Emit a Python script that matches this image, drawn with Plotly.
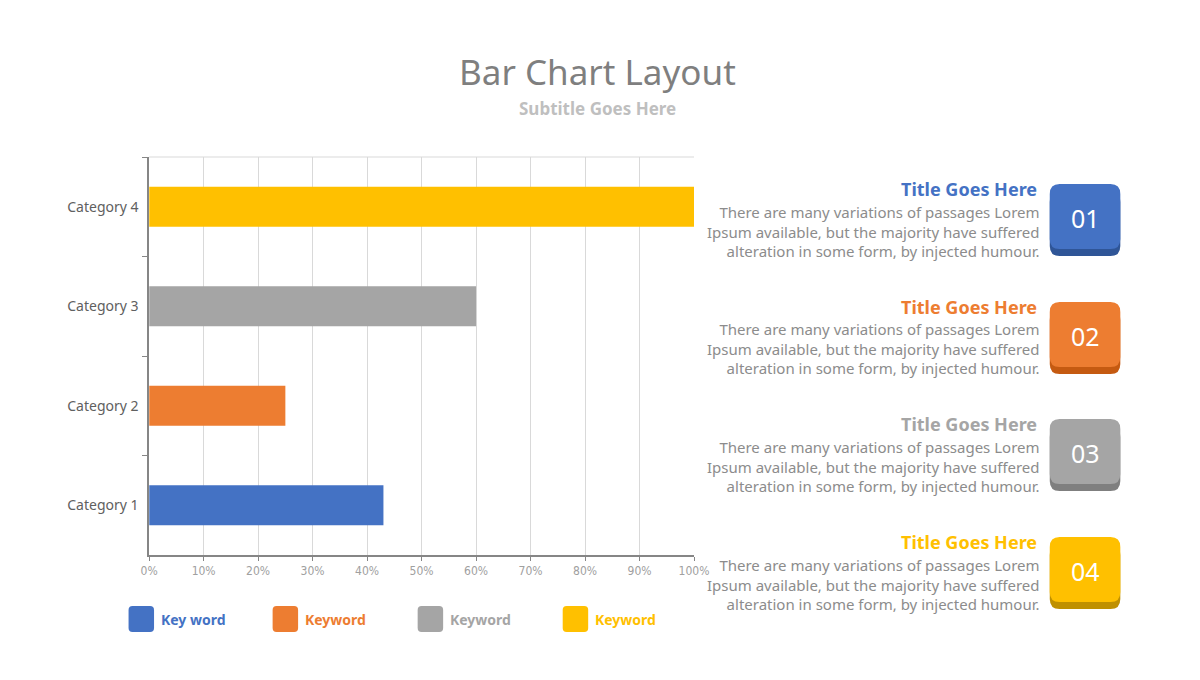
import plotly.graph_objects as go

categories = ["Category 1", "Category 2", "Category 3", "Category 4"]
values = [0.43, 0.25, 0.60, 1.00]
bar_colors = ["#4472C4", "#ED7D31", "#A5A5A5", "#FFC000"]
dark_colors = ["#2F5597", "#C55A11", "#7F7F7F", "#BF9000"]
x_ticks = [0, 0.1, 0.2, 0.3, 0.4, 0.5, 0.6, 0.7, 0.8, 0.9, 1.0]
legend_labels = ["Key word", "Keyword", "Keyword", "Keyword"]
card_titles = ["Title Goes Here"] * 4
card_numbers = ["01", "02", "03", "04"]
card_body = ("There are many variations of passages Lorem<br>"
             "Ipsum available, but the majority have suffered<br>"
             "alteration in some form, by injected humour.")

W, H = 1200, 680
FONT = "Noto Sans, Open Sans, DejaVu Sans, sans-serif"


def px(x):
    return x / W


def py(y):
    return 1 - y / H


def rrect(x0, y0, x1, y1, r):
    X0, X1 = px(x0), px(x1)
    Y0, Y1 = py(y0), py(y1)
    rx, ry = r / W, r / H
    return (f"M {X0+rx},{Y0} L {X1-rx},{Y0} Q {X1},{Y0} {X1},{Y0-ry} "
            f"L {X1},{Y1+ry} Q {X1},{Y1} {X1-rx},{Y1} L {X0+rx},{Y1} "
            f"Q {X0},{Y1} {X0},{Y1+ry} L {X0},{Y0-ry} Q {X0},{Y0} {X0+rx},{Y0} Z")


fig = go.Figure()
fig.add_trace(go.Bar(
    y=categories, x=values, orientation="h",
    marker=dict(color=bar_colors, line=dict(width=0)),
    width=0.4, showlegend=False, hoverinfo="skip",
))

x0p, x1p = 143, 699
y0p, y1p = 157, 555

fig.update_layout(
    width=W, height=H,
    margin=dict(l=0, r=0, t=0, b=0),
    paper_bgcolor="white", plot_bgcolor="white",
    font=dict(family=FONT),
    xaxis=dict(
        domain=[px(x0p), px(x1p)], range=[0, 1],
        tickvals=x_ticks, tickformat=".0%",
        showgrid=True, gridcolor="#d9d9d9", gridwidth=1,
        showline=True, linecolor="#868686", linewidth=1.5,
        ticks="outside", ticklen=4, tickcolor="#868686",
        tickfont=dict(size=12, color="#a0a0a0",
                      family="Liberation Sans Narrow, DejaVu Sans Condensed, Arial Narrow, sans-serif"),
        zeroline=False, fixedrange=True,
    ),
    yaxis=dict(
        domain=[py(y1p), py(y0p)],
        categoryorder="array", categoryarray=categories,
        showgrid=False, showline=True, linecolor="#868686", linewidth=1.5,
        ticks="outside", ticklen=5, tickcolor="#868686", tickson="boundaries",
        tickfont=dict(size=14, color="#606060", family=FONT),
        ticklabelstandoff=6,
        zeroline=False, fixedrange=True,
    ),
)

shapes = []
annotations = []

shapes.append(dict(type="line", xref="paper", yref="paper",
                   x0=px(x0p), x1=px(x1p), y0=py(y0p), y1=py(y0p),
                   line=dict(color="#d9d9d9", width=1)))

annotations.append(dict(text="Bar Chart Layout", x=0.5, y=py(72), xref="paper", yref="paper",
                        showarrow=False, xanchor="center", yanchor="middle",
                        font=dict(size=35, color="#7f7f7f", family=FONT)))
annotations.append(dict(text="<b>Subtitle Goes Here</b>", x=0.5, y=py(108), xref="paper", yref="paper",
                        showarrow=False, xanchor="center", yanchor="middle",
                        font=dict(size=17, color="#bfbfbf", family=FONT)))

leg_x = [122, 269, 417, 565]
for i, lab in enumerate(legend_labels):
    lx = leg_x[i]
    shapes.append(dict(type="path", xref="paper", yref="paper",
                       path=rrect(lx, 606, lx + 26, 632, 4),
                       fillcolor=bar_colors[i], line=dict(width=0)))
    annotations.append(dict(text=f"<b>{lab}</b>", x=px(lx + 31), y=py(619), xref="paper", yref="paper",
                            showarrow=False, xanchor="left", yanchor="middle",
                            font=dict(size=14, color=bar_colors[i], family=FONT)))

card_top = [184, 302, 419, 537]
title_colors = ["#4472C4", "#ED7D31", "#A5A5A5", "#FFC000"]
for i in range(4):
    t = card_top[i]
    shapes.append(dict(type="path", xref="paper", yref="paper",
                       path=rrect(1062, t + 8, 1134, t + 72, 10),
                       fillcolor=dark_colors[i], line=dict(width=0)))
    shapes.append(dict(type="path", xref="paper", yref="paper",
                       path=rrect(1062, t, 1134, t + 65, 10),
                       fillcolor=bar_colors[i], line=dict(width=0)))
    annotations.append(dict(text=card_numbers[i], x=px(1098), y=py(t + 34), xref="paper", yref="paper",
                            showarrow=False, xanchor="center", yanchor="middle",
                            font=dict(size=25, color="white", family=FONT)))
    annotations.append(dict(text=f"<b>{card_titles[i]}</b>", x=px(1051), y=py(t + 5), xref="paper", yref="paper",
                            showarrow=False, xanchor="right", yanchor="middle",
                            font=dict(size=18, color=title_colors[i], family=FONT)))
    annotations.append(dict(text=card_body, x=px(1054), y=py(t + 47), xref="paper", yref="paper",
                            showarrow=False, xanchor="right", yanchor="middle", align="right",
                            font=dict(size=15, color="#8c8c8c", family=FONT)))

fig.update_layout(shapes=shapes, annotations=annotations)
fig.write_html("out.html")
